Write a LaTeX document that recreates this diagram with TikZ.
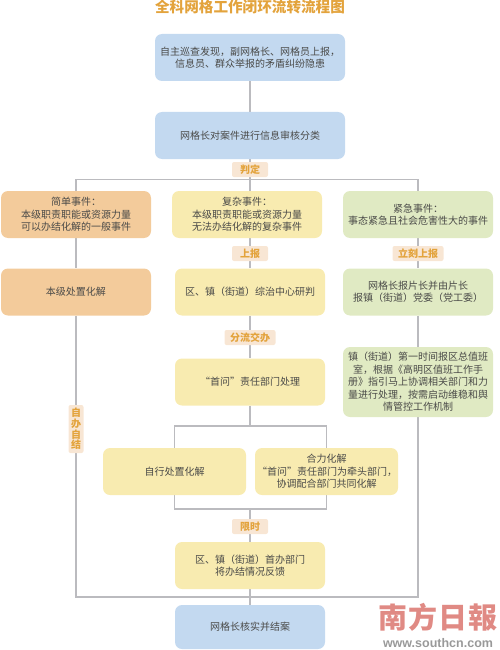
\documentclass[tikz,border=0pt]{standalone}
\usepackage{fontspec}
\setmainfont{Noto Sans CJK SC}
\newfontfamily\wmfont{Liberation Sans}
\usetikzlibrary{backgrounds}
\definecolor{cblue}{HTML}{C3D9F0}
\definecolor{corange}{HTML}{F3CB9B}
\definecolor{cyellow}{HTML}{F8EBB0}
\definecolor{cgreen}{HTML}{E0EAC3}
\definecolor{clabel}{HTML}{F8E6D4}
\definecolor{clabeltxt}{HTML}{E3A33C}
\definecolor{cline}{HTML}{BBBBBF}
\definecolor{ctext}{HTML}{4A4A48}
\definecolor{cwm}{HTML}{E08A84}
\tikzset{
  box/.style={rounded corners=7pt,inner sep=0pt,align=center,text=ctext,
    font=\fontsize{10}{12.5}\selectfont,minimum height=47pt},
  wide/.style={box,minimum width=190pt,text width=186pt,fill=cblue},
  mid/.style={box,minimum width=150pt,text width=146pt},
  half/.style={box,minimum width=143pt,text width=139pt,fill=cyellow},
  tag/.style={fill=clabel,rounded corners=2pt,inner sep=0pt,align=center,text=clabeltxt,
    font=\fontsize{10}{12}\selectfont\bfseries,minimum height=15pt},
  conn/.style={draw=cline,line width=1.2pt}
}
\begin{document}
\begin{tikzpicture}[x=1pt,y=-1pt]
\useasboundingbox (0,0) rectangle (500,650);
\node[font=\fontsize{14.6}{16}\selectfont\bfseries,text=clabeltxt,inner sep=0pt] (title) at (250,7) {全科网格工作闭环流转流程图};
\node[wide] (src) at (250,57.5) {自主巡查发现，副网格长、网格员上报，\\信息员、群众举报的矛盾纠纷隐患};
\node[wide] (cls) at (250,135.5) {网格长对案件进行信息审核分类};
\node[mid,fill=corange] (simple) at (76,214.5) {简单事件：\\本级职责职能或资源力量\\可以办结化解的一般事件};
\node[mid,fill=cyellow] (complex) at (247,214.5) {复杂事件：\\本级职责职能或资源力量\\无法办结化解的复杂事件};
\node[mid,fill=cgreen] (urgent) at (418,214.5) {紧急事件：\\事态紧急且社会危害性大的事件};
\node[mid,fill=corange] (self) at (76,292) {本级处置化解};
\node[mid,fill=cyellow] (center) at (250,292) {区、镇（街道）综治中心研判};
\node[mid,fill=cgreen] (report) at (418,292) {网格长报片长并由片长\\报镇（街道）党委（党工委）};
\node[mid,fill=cyellow] (first) at (250,382) {“首问”责任部门处理};
\node[mid,fill=cgreen,minimum height=70pt] (town) at (418,382) {镇（街道）第一时间报区总值班\\室，根据《高明区值班工作手\\册》指引马上协调相关部门和力\\量进行处理，按需启动维稳和舆\\情管控工作机制};
\node[half] (own) at (174.5,471.5) {自行处置化解};
\node[half] (joint) at (326.5,471.5) {合力化解\\“首问”责任部门为牵头部门，\\协调配合部门共同化解};
\node[mid,fill=cyellow] (feedback) at (250,565.5) {区、镇（街道）首办部门\\将办结情况反馈};
\node[mid,fill=cblue,minimum height=44pt] (close) at (250,627) {网格长核实并结案};

\node[tag,minimum width=36pt] (t1) at (250,169.5) {判定};
\node[tag,minimum width=36pt] (t2) at (250,253.5) {上报};
\node[tag,minimum width=51pt] (t3) at (418,253.5) {立刻上报};
\node[tag,minimum width=51pt] (t4) at (250,337.5) {分流交办};
\node[tag,minimum width=15pt,minimum height=48pt,font=\fontsize{10}{10.6}\selectfont\bfseries] (t5) at (76,429) {自\\办\\自\\结};
\node[tag,minimum width=36pt] (t6) at (250,526.5) {限时};

\coordinate (j1) at (250,179.5);
\coordinate (j2) at (250,426);
\coordinate (j3) at (250,509);
\coordinate (j4) at (250,597);

\begin{scope}[on background layer]
\draw[conn] (src) -- (cls);
\draw[conn] (cls) -- (j1);
\draw[conn] (j1) -| (simple);
\draw[conn] (j1) -| (urgent);
\draw[conn] (j1) -- (complex.north -| j1);
\draw[conn] (complex.south -| center) -- (center);
\draw[conn] (urgent) -- (report);
\draw[conn] (simple) -- (self);
\draw[conn] (center) -- (first);
\draw[conn] (report) -- (town);
\draw[conn] (first) -- (j2);
\draw[conn] (j2) -| (own);
\draw[conn] (j2) -| (joint);
\draw[conn] (own) |- (j3);
\draw[conn] (joint) |- (j3);
\draw[conn] (j3) -- (feedback);
\draw[conn] (feedback) -- (j4);
\draw[conn] (j4) -- (close);
\draw[conn] (self) |- (j4);
\draw[conn] (town) |- (j4);
\end{scope}

\node[text=cwm,font=\fontsize{29}{32}\selectfont\bfseries,inner sep=0pt,anchor=center] (wm) at (438,617) {南\hspace{1pt}方\hspace{1pt}日\hspace{1pt}報};
\node[text=gray!80,font=\wmfont\fontsize{12.5}{14}\selectfont\bfseries,inner sep=0pt] (url) at (438,643) {www.southcn.com};
\end{tikzpicture}
\end{document}
